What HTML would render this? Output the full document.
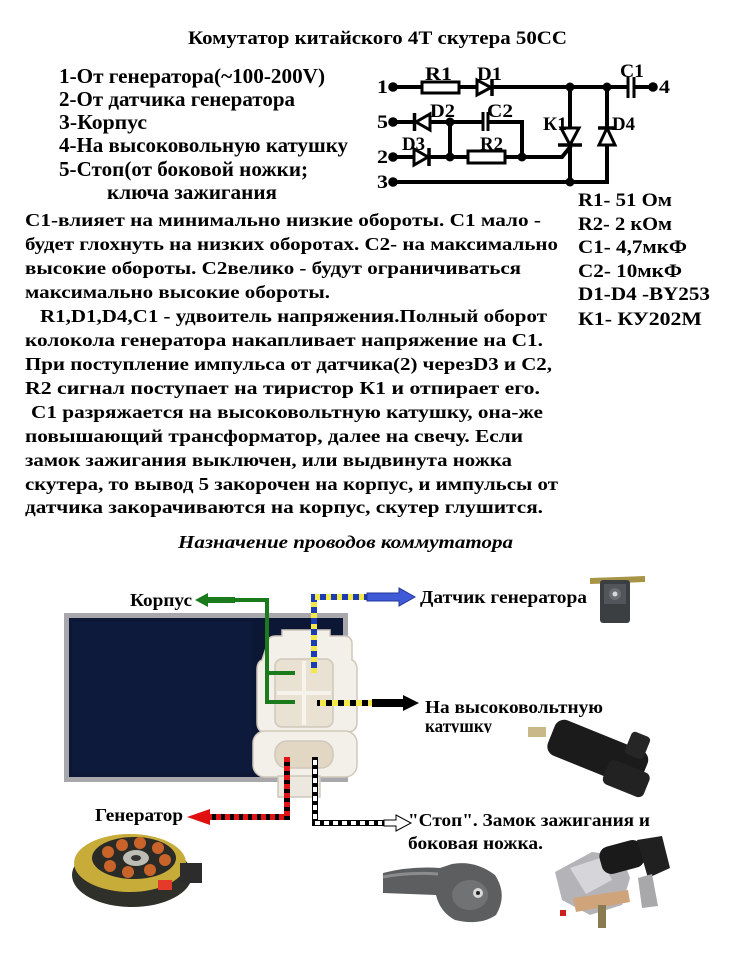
<!DOCTYPE html>
<html><head><meta charset="utf-8"><style>
html,body{margin:0;padding:0;background:#fff;}
svg{display:block;}
text{font-family:"Liberation Serif","DejaVu Serif",serif;font-weight:bold;fill:#000;}
</style></head><body>
<svg width="736" height="956" viewBox="0 0 736 956" xmlns="http://www.w3.org/2000/svg">
<rect width="736" height="956" fill="#fff"/>

<!-- Title -->
<text x="188" y="44" font-size="19" textLength="379" lengthAdjust="spacingAndGlyphs">Комутатор китайского 4Т скутера 50СС</text>

<!-- Left list -->
<g font-size="21">
<text x="59" y="83" textLength="266" lengthAdjust="spacingAndGlyphs">1-От генератора(~100-200V)</text>
<text x="59" y="106" textLength="236" lengthAdjust="spacingAndGlyphs">2-От датчика генератора</text>
<text x="59" y="129" textLength="88" lengthAdjust="spacingAndGlyphs">3-Корпус</text>
<text x="59" y="152" textLength="289" lengthAdjust="spacingAndGlyphs">4-На высоковольную катушку</text>
<text x="59" y="176" textLength="249" lengthAdjust="spacingAndGlyphs">5-Стоп(от боковой ножки;</text>
<text x="107" y="199" textLength="170" lengthAdjust="spacingAndGlyphs">ключа зажигания</text>
</g>

<!-- Circuit -->
<g stroke="#000" stroke-width="4" fill="none" stroke-linecap="butt">
<path d="M393 87 H422 M459 87 H477 M492 87 H628 M634 87 H653"/>
<path d="M393 122 H414 M430 122 H483 M488 122 H522 V157"/>
<path d="M450 122 V157"/>
<path d="M393 157 H414 M429 157 H468 M505 157 H562 L571 146"/>
<path d="M570 87 V128 M570 145 V182"/>
<path d="M607 87 V128 M607 145 V182"/>
<path d="M393 182 H609"/>
<path d="M628 77 V98 M634 77 V98" stroke-width="3"/>
<path d="M483 112 V131 M488 112 V131" stroke-width="3"/>
</g>
<g stroke="#000" stroke-width="3" fill="#fff">
<rect x="422" y="82" width="37" height="11"/>
<rect x="468" y="151" width="37" height="12"/>
<path d="M477 80 L477 95 L491 87.5 Z"/>
<path d="M430 114 L430 130 L416 122 Z"/>
<path d="M414 149 L414 165 L428 157 Z"/>
<path d="M561 128 H579 L570 145 Z"/>
<path d="M599 145 H615 L607 128 Z"/>
</g>
<g stroke="#000" stroke-width="3.5" fill="none">
<path d="M492 79 V96"/>
<path d="M414.5 113 V131"/>
<path d="M429 148 V166"/>
<path d="M558 145 H582"/>
<path d="M598 128 H616"/>
</g>
<g fill="#000">
<circle cx="393" cy="87" r="4.8"/><circle cx="653" cy="87" r="4.8"/>
<circle cx="393" cy="122" r="4.8"/><circle cx="393" cy="157" r="4.8"/>
<circle cx="393" cy="182" r="4.8"/><circle cx="570" cy="87" r="4.5"/>
<circle cx="607" cy="87" r="4.5"/><circle cx="450" cy="122" r="4.5"/>
<circle cx="450" cy="157" r="4.5"/><circle cx="522" cy="157" r="4.5"/>
<circle cx="570" cy="182" r="4.5"/>
</g>
<g font-size="19">
<text x="425" y="80" textLength="27" lengthAdjust="spacingAndGlyphs">R1</text>
<text x="477" y="80" textLength="25" lengthAdjust="spacingAndGlyphs">D1</text>
<text x="620" y="77" textLength="24" lengthAdjust="spacingAndGlyphs">C1</text>
<text x="377" y="93" textLength="11" lengthAdjust="spacingAndGlyphs">1</text>
<text x="659" y="93" textLength="11" lengthAdjust="spacingAndGlyphs">4</text>
<text x="377" y="128" textLength="11" lengthAdjust="spacingAndGlyphs">5</text>
<text x="377" y="163" textLength="11" lengthAdjust="spacingAndGlyphs">2</text>
<text x="377" y="188" textLength="11" lengthAdjust="spacingAndGlyphs">3</text>
<text x="430" y="117" textLength="25" lengthAdjust="spacingAndGlyphs">D2</text>
<text x="487" y="117" textLength="26" lengthAdjust="spacingAndGlyphs">C2</text>
<text x="402" y="150" textLength="23" lengthAdjust="spacingAndGlyphs">D3</text>
<text x="480" y="150" textLength="23" lengthAdjust="spacingAndGlyphs">R2</text>
<text x="543" y="130" textLength="24" lengthAdjust="spacingAndGlyphs">К1</text>
<text x="612" y="130" textLength="23" lengthAdjust="spacingAndGlyphs">D4</text>
</g>

<!-- Right list -->
<g font-size="19">
<text x="578" y="206" textLength="94" lengthAdjust="spacingAndGlyphs">R1- 51 Ом</text>
<text x="578" y="230" textLength="94" lengthAdjust="spacingAndGlyphs">R2- 2 кОм</text>
<text x="578" y="253" textLength="109" lengthAdjust="spacingAndGlyphs">С1- 4,7мкФ</text>
<text x="578" y="277" textLength="104" lengthAdjust="spacingAndGlyphs">С2- 10мкФ</text>
<text x="578" y="300" textLength="132" lengthAdjust="spacingAndGlyphs">D1-D4 -BY253</text>
<text x="578" y="325" textLength="124" lengthAdjust="spacingAndGlyphs">К1- КУ202М</text>
</g>

<!-- Paragraph -->
<g font-size="18">
<text x="25" y="226" textLength="516" lengthAdjust="spacingAndGlyphs">С1-влияет на минимально низкие обороты. С1 мало -</text>
<text x="25" y="250" textLength="533" lengthAdjust="spacingAndGlyphs">будет глохнуть на низких оборотах. С2- на максимально</text>
<text x="25" y="274" textLength="496" lengthAdjust="spacingAndGlyphs">высокие обороты. С2велико - будут ограничиваться</text>
<text x="25" y="298" textLength="305" lengthAdjust="spacingAndGlyphs">максимально высокие обороты.</text>
<text x="40" y="322" textLength="507" lengthAdjust="spacingAndGlyphs">R1,D1,D4,С1 - удвоитель напряжения.Полный оборот</text>
<text x="25" y="346" textLength="518" lengthAdjust="spacingAndGlyphs">колокола генератора накапливает напряжение на С1.</text>
<text x="25" y="370" textLength="527" lengthAdjust="spacingAndGlyphs">При поступление импульса от датчика(2) черезD3 и С2,</text>
<text x="25" y="394" textLength="515" lengthAdjust="spacingAndGlyphs">R2 сигнал поступает на тиристор К1 и отпирает его.</text>
<text x="31" y="418" textLength="512" lengthAdjust="spacingAndGlyphs">С1 разряжается на высоковольтную катушку, она-же</text>
<text x="25" y="442" textLength="498" lengthAdjust="spacingAndGlyphs">повышающий трансформатор, далее на свечу. Если</text>
<text x="25" y="466" textLength="487" lengthAdjust="spacingAndGlyphs">замок зажигания выключен, или выдвинута ножка</text>
<text x="25" y="490" textLength="533" lengthAdjust="spacingAndGlyphs">скутера, то вывод 5 закорочен на корпус, и импульсы от</text>
<text x="25" y="513" textLength="518" lengthAdjust="spacingAndGlyphs">датчика закорачиваются на корпус, скутер глушится.</text>
</g>

<text x="178" y="548" font-size="18" font-style="italic" textLength="335" lengthAdjust="spacingAndGlyphs">Назначение проводов коммутатора</text>

<!-- ECU box -->
<rect x="64" y="613" width="284" height="169" fill="#a8a8ac"/>
<rect x="69" y="618" width="274" height="159" fill="#0c1736"/>
<rect x="72" y="622" width="180" height="150" fill="#0e1a3c"/>

<!-- Connector -->
<g stroke="#cfc8bb" stroke-width="1.5">
<path d="M268 642 Q268 636 276 636 L282 636 L282 630 L330 630 L330 636 L344 636 Q352 636 352 644 L352 660 Q357 662 357 670 L357 722 Q357 732 347 732 L265 732 Q257 732 257 722 L257 670 Q257 662 262 660 Z" fill="#f3f0e9"/>
<rect x="275" y="659" width="58" height="68" rx="7" fill="#e9e1d2"/>
<rect x="253" y="731" width="104" height="46" rx="12" fill="#f3f0e9"/>
<rect x="275" y="741" width="58" height="27" rx="12" fill="#e2d7c2"/>
<rect x="278" y="776" width="42" height="21" fill="#ece8df"/>
</g>
<path d="M304 661 V725 M277 693 H331" stroke="#f6f3ec" stroke-width="4"/>

<!-- Green wire -->
<g stroke="#1b7a1b" stroke-width="4" fill="none">
<path d="M233 600 H267 V702 H295 M267 673 H295"/>
</g>
<path d="M235 597 H208 V593 L195 600 L208 607 V603 H235 Z" fill="#1b7a1b"/>
<text x="130" y="606" font-size="18" textLength="62" lengthAdjust="spacingAndGlyphs">Корпус</text>

<!-- Blue-yellow wire -->
<path d="M314 673 V597 H368" stroke="#1c3cb4" stroke-width="6" fill="none"/>
<path d="M314 673 V597 H368" stroke="#f2e84a" stroke-width="6" fill="none" stroke-dasharray="5 6"/>
<path d="M367 593 H399 V588 L415 597 L399 606 V601 H367 Z" fill="#3f5ad6" stroke="#23369a" stroke-width="1"/>
<text x="420" y="603" font-size="18" textLength="167" lengthAdjust="spacingAndGlyphs">Датчик генератора</text>

<!-- Black-yellow wire -->
<path d="M317 703 H374" stroke="#000" stroke-width="6"/>
<path d="M320 703 H372" stroke="#f2e84a" stroke-width="6" stroke-dasharray="6 6"/>
<path d="M372 699 H403 V695 L419 703 L403 711 V707 H372 Z" fill="#000"/>
<text x="425" y="713" font-size="18" textLength="178" lengthAdjust="spacingAndGlyphs">На высоковольтную</text>
<text x="425" y="732" font-size="18" textLength="67" lengthAdjust="spacingAndGlyphs">катушку</text>
<rect x="420" y="733" width="90" height="10" fill="#fff"/>

<!-- Red-black wire -->
<path d="M287 757 V817 H207" stroke="#000" stroke-width="6" fill="none"/>
<path d="M287 757 V817 H207" stroke="#e01414" stroke-width="6" fill="none" stroke-dasharray="5 4"/>
<path d="M210 809 L187 817 L210 825 Z" fill="#e01010"/>
<text x="95" y="821" font-size="18" textLength="88" lengthAdjust="spacingAndGlyphs">Генератор</text>

<!-- White-black wire -->
<path d="M315 757 V823 H384" stroke="#000" stroke-width="6" fill="none"/>
<path d="M315 760 V823 H382" stroke="#fff" stroke-width="4" fill="none" stroke-dasharray="5 4"/>
<path d="M384 820 H396 V815 L411 823 L396 831 V826 H384 Z" fill="#fff" stroke="#000" stroke-width="1"/>
<text x="408" y="826" font-size="18" textLength="242" lengthAdjust="spacingAndGlyphs">"Стоп". Замок зажигания и</text>
<text x="408" y="849" font-size="18" textLength="135" lengthAdjust="spacingAndGlyphs">боковая ножка.</text>

<!-- Sensor photo -->
<path d="M590 578 L645 576 L645 582 L590 584 Z" fill="#a89446"/>
<rect x="600" y="580" width="30" height="43" rx="3" fill="#3c3f42"/>
<rect x="604" y="584" width="22" height="20" fill="#52565a"/>
<circle cx="615" cy="594" r="6" fill="#6a6e72"/>
<circle cx="615" cy="594" r="2.5" fill="#d8d8d8"/>

<!-- Coil photo -->
<g transform="rotate(22 595 752)">
<rect x="548" y="733" width="100" height="38" rx="10" fill="#1b1b1b"/>
<rect x="612" y="752" width="44" height="26" rx="6" fill="#222"/>
<rect x="622" y="718" width="20" height="24" rx="4" fill="#262626"/>
</g>
<rect x="528" y="727" width="18" height="10" fill="#c9b88a"/>

<!-- Stator photo -->
<ellipse cx="132" cy="875" rx="60" ry="32" fill="#2f302a"/>
<ellipse cx="130" cy="863" rx="56" ry="29" fill="#c8ac3a"/>
<ellipse cx="134" cy="858" rx="42" ry="21" fill="#2a2a26"/>
<g fill="#c8642a">
<circle cx="108" cy="852" r="6"/><circle cx="122" cy="845" r="6"/><circle cx="140" cy="843" r="6"/>
<circle cx="158" cy="848" r="6"/><circle cx="165" cy="860" r="6"/><circle cx="150" cy="870" r="6"/>
<circle cx="128" cy="872" r="6"/><circle cx="110" cy="866" r="6"/>
</g>
<ellipse cx="136" cy="858" rx="13" ry="8" fill="#bdbdb5"/>
<ellipse cx="136" cy="858" rx="5" ry="3" fill="#333"/>
<rect x="180" y="863" width="22" height="20" fill="#2c2c2c"/>
<rect x="158" y="880" width="14" height="10" fill="#e53a2a"/>

<!-- Side stand photo -->
<path d="M383 873 Q410 866 440 868 L452 864 Q475 860 495 875 Q508 895 496 915 Q480 926 455 920 Q440 912 436 895 L383 893 Z" fill="#5c5e60"/>
<path d="M383 877 Q410 872 438 874" stroke="#8a8c8e" stroke-width="3" fill="none"/>
<ellipse cx="470" cy="895" rx="18" ry="15" fill="#707274"/>
<circle cx="478" cy="893" r="5" fill="#d8d8d8"/>
<circle cx="478" cy="893" r="2" fill="#222"/>

<!-- Ignition switch photo -->
<path d="M555 872 L592 852 L622 856 L630 878 L622 905 L590 915 L562 900 Z" fill="#b4b4b8"/>
<path d="M570 868 L600 858 L612 880 L586 894 Z" fill="#d6d6da"/>
<rect x="600" y="843" width="44" height="28" rx="10" fill="#1a1a1a" transform="rotate(-15 622 857)"/>
<path d="M637 840 L662 836 L670 868 L648 878 Z" fill="#202020"/>
<path d="M638 878 L652 874 L658 906 L642 908 Z" fill="#a8a8aa"/>
<path d="M573 898 L628 890 L630 902 L576 912 Z" fill="#d0a47a"/>
<rect x="598" y="905" width="8" height="23" fill="#8a7a50"/>
<rect x="560" y="910" width="6" height="6" fill="#cc2020"/>
</svg>
</body></html>
